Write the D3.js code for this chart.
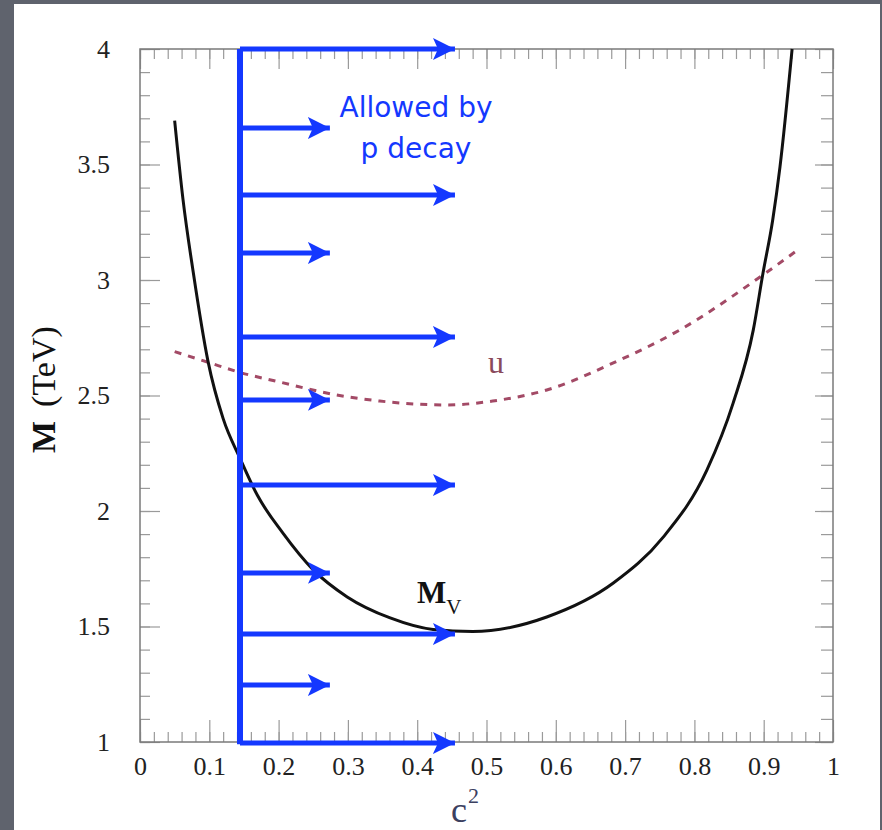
<!DOCTYPE html>
<html>
<head>
<meta charset="utf-8">
<script src="https://cdn.jsdelivr.net/npm/d3@7"></script>
<style>
  html, body { margin: 0; padding: 0; background: #5f636d; }
  svg { display: block; }
</style>
</head>
<body>
<svg id="chart" width="882" height="830"></svg>
<script>
// Vector-boson mass M_V and the u curve versus c^2, with the region allowed by proton decay
const mvC2 = [0.05, 0.062, 0.077, 0.098, 0.12, 0.144, 0.169, 0.206, 0.25, 0.299, 0.361, 0.423, 0.48, 0.587, 0.683, 0.755, 0.818, 0.856, 0.885, 0.899, 0.913, 0.9235, 0.941];
const mvMass = [3.69, 3.35, 3.03, 2.65, 2.40, 2.23, 2.07, 1.905, 1.745, 1.628, 1.537, 1.487, 1.478, 1.541, 1.688, 1.887, 2.177, 2.468, 2.784, 3.03, 3.26, 3.49, 4.0];

const uC2 = [0.05, 0.097, 0.144, 0.202, 0.284, 0.346, 0.443, 0.509, 0.587, 0.683, 0.779, 0.899, 0.945];
const uMass = [2.69, 2.645, 2.60, 2.558, 2.502, 2.476, 2.459, 2.476, 2.524, 2.641, 2.784, 3.022, 3.121];

// proton-decay bound: vertical limit and the arrows pointing into the allowed side
const boundC2 = 0.1443;
const arrowMass = [4.0, 3.658, 3.368, 3.117, 2.753, 2.481, 2.113, 1.732, 1.468, 1.247, 0.996];
const arrowEndC2 = [0.4545, 0.274, 0.4545, 0.274, 0.4545, 0.274, 0.4545, 0.274, 0.4545, 0.274, 0.4545];

const xTicks = [0, 0.1, 0.2, 0.3, 0.4, 0.5, 0.6, 0.7, 0.8, 0.9, 1];
const xTickLabels = ["0", "0.1", "0.2", "0.3", "0.4", "0.5", "0.6", "0.7", "0.8", "0.9", "1"];
const yTicks = [1, 1.5, 2, 2.5, 3, 3.5, 4];
const yTickLabels = ["1", "1.5", "2", "2.5", "3", "3.5", "4"];

const svg = d3.select("#chart");
const W = 882, H = 830;
const plot = { left: 140, right: 833, top: 49, bottom: 742 };

const x = d3.scaleLinear().domain([0, 1]).range([plot.left, plot.right]);
const y = d3.scaleLinear().domain([1, 4]).range([plot.bottom, plot.top]);

// slide background and white panel
svg.append("rect").attr("width", W).attr("height", H).attr("fill", "#5f636d");
svg.append("rect").attr("x", 14).attr("y", 4).attr("width", 866).attr("height", 830).attr("fill", "#ffffff");

const serif = "'Liberation Serif', 'Times New Roman', serif";

const xMinor = d3.range(0, 1.0001, 0.02).map(v => +v.toFixed(2));
const yMinor = d3.range(1, 4.0001, 0.1).map(v => +v.toFixed(1));

function styleAxis(g) {
  g.select(".domain").remove();
  g.selectAll(".tick line").attr("stroke", "#9a9a9a").attr("stroke-width", 1.2);
  g.selectAll(".tick text").attr("fill", "#222").attr("font-family", serif).attr("font-size", 26);
}

// minor ticks (inward) on all four sides
svg.append("g").attr("transform", `translate(0,${plot.bottom})`)
  .call(d3.axisBottom(x).tickValues(xMinor).tickSize(-10).tickFormat(""))
  .call(styleAxis);
svg.append("g").attr("transform", `translate(0,${plot.top})`)
  .call(d3.axisTop(x).tickValues(xMinor).tickSize(-10).tickFormat(""))
  .call(styleAxis);
svg.append("g").attr("transform", `translate(${plot.left},0)`)
  .call(d3.axisLeft(y).tickValues(yMinor).tickSize(-10).tickFormat(""))
  .call(styleAxis);
svg.append("g").attr("transform", `translate(${plot.right},0)`)
  .call(d3.axisRight(y).tickValues(yMinor).tickSize(-12).tickFormat(""))
  .call(styleAxis);

// major ticks with labels
svg.append("g").attr("transform", `translate(0,${plot.bottom})`)
  .call(d3.axisBottom(x).tickValues(xTicks).tickSize(-22).tickPadding(15)
    .tickFormat((d, i) => xTickLabels[i]))
  .call(styleAxis);
svg.append("g").attr("transform", `translate(0,${plot.top})`)
  .call(d3.axisTop(x).tickValues(xTicks).tickSize(-20).tickFormat(""))
  .call(styleAxis);
svg.append("g").attr("transform", `translate(${plot.left},0)`)
  .call(d3.axisLeft(y).tickValues(yTicks).tickSize(-20).tickPadding(30)
    .tickFormat((d, i) => yTickLabels[i]))
  .call(styleAxis);
svg.append("g").attr("transform", `translate(${plot.right},0)`)
  .call(d3.axisRight(y).tickValues(yTicks).tickSize(-18).tickFormat(""))
  .call(styleAxis);

// frame
svg.append("rect")
  .attr("x", plot.left).attr("y", plot.top)
  .attr("width", plot.right - plot.left).attr("height", plot.bottom - plot.top)
  .attr("fill", "none").attr("stroke", "#7a7a7a").attr("stroke-width", 1.5);

// curves
const line = d3.line().x(d => x(d[0])).y(d => y(d[1])).curve(d3.curveMonotoneX);

svg.append("path")
  .datum(uC2.map((c, i) => [c, uMass[i]]))
  .attr("d", line)
  .attr("fill", "none")
  .attr("stroke", "#a34a66")
  .attr("stroke-width", 3)
  .attr("stroke-dasharray", "7,7");

svg.append("path")
  .datum(mvC2.map((c, i) => [c, mvMass[i]]))
  .attr("d", line)
  .attr("fill", "none")
  .attr("stroke", "#111")
  .attr("stroke-width", 3);

// proton-decay bound
const blue = "#1438ff";
svg.append("defs").append("marker")
  .attr("id", "head")
  .attr("markerUnits", "userSpaceOnUse")
  .attr("markerWidth", 24).attr("markerHeight", 24)
  .attr("viewBox", "0 -12 24 24")
  .attr("refX", 22).attr("refY", 0)
  .attr("orient", "auto")
  .append("path")
  .attr("d", "M0,-11 L22,0 L0,11 L5,0 Z")
  .attr("fill", blue);

svg.append("line")
  .attr("x1", x(boundC2)).attr("x2", x(boundC2))
  .attr("y1", y(4.0)).attr("y2", y(0.99))
  .attr("stroke", blue).attr("stroke-width", 6);

svg.append("g").selectAll("line")
  .data(arrowMass.map((m, i) => [m, arrowEndC2[i]]))
  .join("line")
  .attr("x1", x(boundC2)).attr("x2", d => x(d[1]))
  .attr("y1", d => y(d[0])).attr("y2", d => y(d[0]))
  .attr("stroke", blue).attr("stroke-width", 5)
  .attr("marker-end", "url(#head)");

const note = svg.append("text")
  .attr("fill", blue)
  .attr("font-family", "'Comic Sans MS', 'DejaVu Sans', sans-serif")
  .attr("font-size", 28)
  .attr("text-anchor", "middle");
note.append("tspan").attr("x", 416).attr("y", 117).text("Allowed by");
note.append("tspan").attr("x", 416).attr("y", 158).text("p decay");

// curve labels
const mvLabel = svg.append("text").attr("x", 417).attr("y", 603)
  .attr("font-family", serif).attr("fill", "#111");
mvLabel.append("tspan").attr("font-weight", "bold").attr("font-size", 31).text("M");
mvLabel.append("tspan").attr("font-size", 21).attr("dy", 11).text("V");

svg.append("text").attr("x", 488).attr("y", 373)
  .attr("font-family", serif).attr("font-size", 32).attr("fill", "#8a4a5c")
  .text("u");

// axis titles
const xTitle = svg.append("text").attr("x", 451).attr("y", 822)
  .attr("font-family", serif).attr("fill", "#3b4060");
xTitle.append("tspan").attr("font-size", 36).text("c");
xTitle.append("tspan").attr("font-size", 22).attr("dy", -19).attr("dx", 1).text("2");

const yTitle = svg.append("text")
  .attr("transform", "translate(55,453) rotate(-90)")
  .attr("font-family", serif).attr("font-size", 34).attr("fill", "#111");
yTitle.append("tspan").attr("font-weight", "bold").text("M");
yTitle.append("tspan").attr("dx", 14).text("(TeV)");
</script>
</body>
</html>
